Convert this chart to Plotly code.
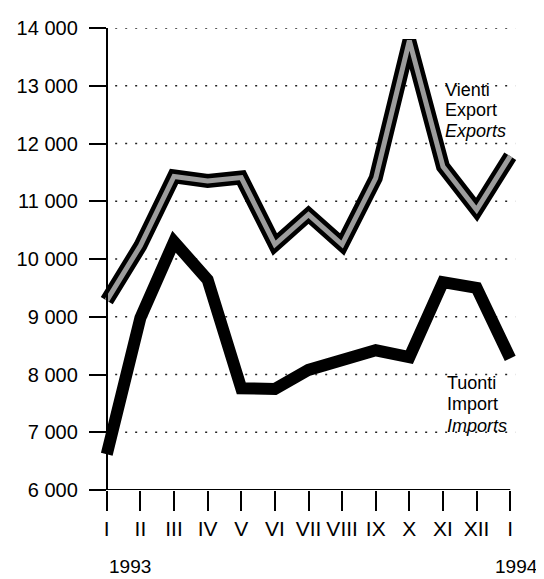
import plotly.graph_objects as go

months = ["I", "II", "III", "IV", "V", "VI", "VII", "VIII", "IX", "X", "XI", "XII", "I"]
exports = [9280, 10230, 11430, 11350, 11410, 10250, 10770, 10250, 11400, 13780, 11600, 10850, 11780]
imports = [6620, 8980, 10300, 9640, 7760, 7750, 8080, 8230, 8420, 8300, 9600, 9500, 8280]
yticks = [6000, 7000, 8000, 9000, 10000, 11000, 12000, 13000, 14000]
ytext = ["6 000", "7 000", "8 000", "9 000", "10 000", "11 000", "12 000", "13 000", "14 000"]
years = ["1993", "1994"]
export_label = ["Vienti", "Export", "<i>Exports</i>"]
import_label = ["Tuonti", "Import", "<i>Imports</i>"]

xs = list(range(len(months)))
pad = 10 / 34.4167
FONT = "Liberation Sans, Arial, sans-serif"

fig = go.Figure()
fig.add_trace(go.Scatter(x=xs, y=exports, mode="lines",
                         line=dict(color="black", width=14), hoverinfo="skip", showlegend=False))
fig.add_trace(go.Scatter(x=xs, y=exports, mode="lines",
                         line=dict(color="#9c9c9c", width=5), hoverinfo="skip", showlegend=False))
fig.add_trace(go.Scatter(x=xs, y=imports, mode="lines",
                         line=dict(color="black", width=12), hoverinfo="skip", showlegend=False))

shapes = []
for v in yticks[1:]:
    shapes.append(dict(type="line", xref="x", yref="y", x0=0.25, x1=12.15, y0=v, y1=v,
                       line=dict(color="#222", width=1.5, dash="2px,8px"), layer="below"))
shapes.append(dict(type="line", xref="x", yref="y", x0=0, x1=xs[-1], y0=yticks[0], y1=yticks[0],
                   line=dict(color="black", width=2)))

annotations = []
for i, t in enumerate(export_label):
    annotations.append(dict(x=10.0, y=12934 - i * 360, xref="x", yref="y", text=t, showarrow=False,
                            xanchor="left", yanchor="middle", font=dict(family=FONT, size=18, color="black")))
for i, t in enumerate(import_label):
    annotations.append(dict(x=10.05, y=7860 - i * 375, xref="x", yref="y", text=t, showarrow=False,
                            xanchor="left", yanchor="middle", font=dict(family=FONT, size=18, color="black")))
annotations.append(dict(x=0, y=-0.166, xref="x", yref="paper", text=years[0], showarrow=False,
                        xanchor="left", yanchor="middle", font=dict(family=FONT, size=19, color="black")))
annotations.append(dict(x=xs[-1], y=-0.166, xref="x", yref="paper", text=years[1], showarrow=False,
                        xanchor="right", xshift=30, yanchor="middle", font=dict(family=FONT, size=19, color="black")))

fig.update_layout(
    width=536, height=571,
    margin=dict(l=79, r=24, t=9, b=89),
    paper_bgcolor="white", plot_bgcolor="white",
    showlegend=False,
    shapes=shapes, annotations=annotations,
    xaxis=dict(range=[-pad, 12 + pad], tickvals=xs, ticktext=months, ticks="outside", ticklen=20,
               tickwidth=2, tickcolor="black", showgrid=False, zeroline=False, showline=False,
               ticklabeloverflow="allow",
               tickfont=dict(family=FONT, size=21, color="black")),
    yaxis=dict(range=[6000, 14000], anchor="free", position=pad / (12 + 2 * pad), tickvals=yticks,
               ticktext=ytext, ticks="outside", ticklen=17, tickwidth=2, tickcolor="black",
               showline=True, linewidth=2, linecolor="black", showgrid=False, zeroline=False,
               ticklabelstandoff=7, ticklabeloverflow="allow",
               tickfont=dict(family=FONT, size=20, color="black")),
)

fig.write_html("out.html")
